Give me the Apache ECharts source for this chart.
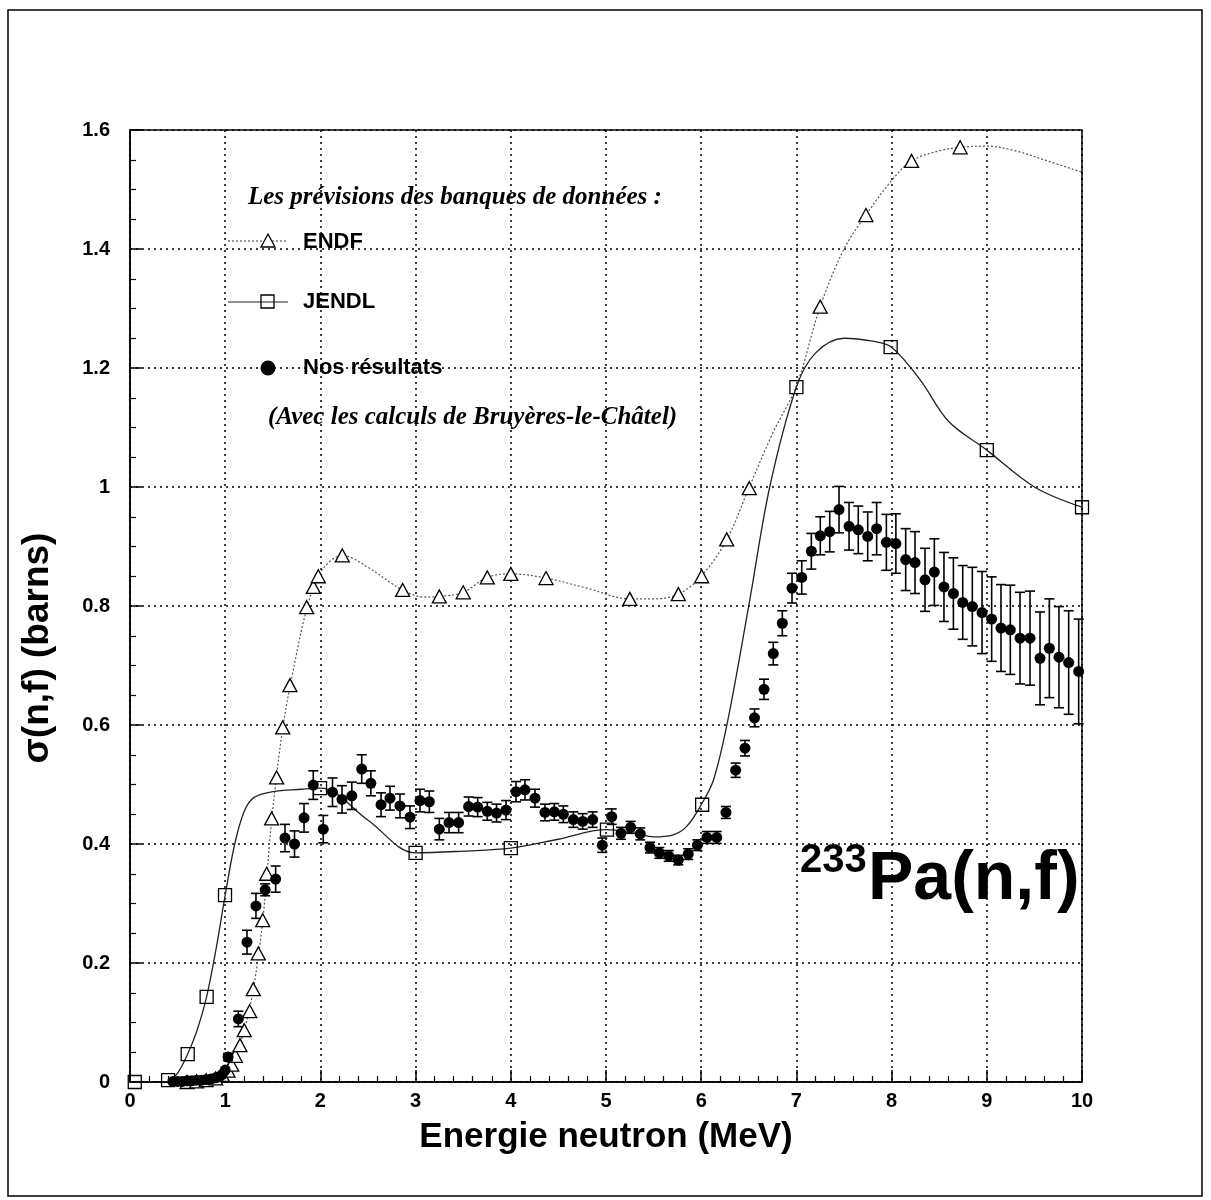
<!DOCTYPE html>
<html>
<head>
<meta charset="utf-8">
<script src="https://cdn.jsdelivr.net/npm/echarts@6/dist/echarts.min.js"></script>
<style>
html,body{margin:0;padding:0;background:#fff;}
#chart{width:1211px;height:1200px;}
</style>
</head>
<body>
<div id="chart"></div>
<script>
// ---- Data ----
const xTicks = [0,1,2,3,4,5,6,7,8,9,10];
const yTicks = [0,0.2,0.4,0.6,0.8,1,1.2,1.4,1.6];

// ENDF markers (triangles)
const endfX = [0.6,0.7,0.8,0.9,0.97,1.03,1.068,1.106,1.155,1.2,1.257,1.295,1.348,1.394,1.436,1.488,1.54,1.604,1.68,1.856,1.926,1.978,2.23,2.864,3.249,3.5,3.753,4.0,4.37,5.25,5.76,6.005,6.268,6.505,7.25,7.73,8.21,8.72];
const endfY = [0.0,0.001,0.003,0.006,0.012,0.019,0.029,0.044,0.062,0.087,0.119,0.156,0.216,0.272,0.35,0.443,0.512,0.596,0.667,0.798,0.832,0.85,0.885,0.827,0.816,0.823,0.848,0.854,0.847,0.812,0.82,0.85,0.912,0.998,1.303,1.457,1.548,1.571];
// ENDF evaluated curve
const endfCurveX = [0.45,0.6,0.8,0.97,1.1,1.2,1.3,1.4,1.49,1.6,1.7,1.86,1.98,2.1,2.23,2.5,2.86,3.1,3.25,3.5,3.75,4.0,4.37,4.8,5.25,5.5,5.76,6.0,6.27,6.5,6.75,7.0,7.25,7.5,7.73,8.0,8.21,8.5,8.72,9.0,9.3,9.6,10.0];
const endfCurveY = [0,0,0.003,0.012,0.044,0.087,0.16,0.28,0.443,0.59,0.68,0.798,0.85,0.875,0.885,0.865,0.827,0.815,0.816,0.823,0.848,0.854,0.847,0.83,0.812,0.812,0.82,0.85,0.912,0.998,1.09,1.17,1.303,1.4,1.457,1.515,1.548,1.565,1.571,1.573,1.565,1.55,1.529];

// JENDL markers (squares)
const jendlX = [0.05,0.4,0.606,0.805,0.998,1.996,3.0,4.0,5.01,6.01,7.0,7.99,9.0,10.0];
const jendlY = [0.0,0.003,0.047,0.143,0.314,0.494,0.385,0.393,0.424,0.466,1.168,1.235,1.062,0.966];
// JENDL evaluated curve
const jendlCurveX = [0.4,0.5,0.6,0.7,0.8,0.9,1.0,1.1,1.2,1.3,1.5,1.8,2.0,2.5,3.0,3.5,4.0,4.5,5.0,5.3,5.5,5.7,5.85,6.0,6.13,6.28,6.51,6.72,7.0,7.2,7.5,7.8,8.0,8.3,8.6,9.0,9.5,10.0];
const jendlCurveY = [0.0,0.015,0.045,0.085,0.14,0.22,0.314,0.4,0.455,0.478,0.488,0.492,0.494,0.44,0.385,0.388,0.393,0.408,0.424,0.418,0.412,0.415,0.43,0.466,0.508,0.608,0.81,1.0,1.168,1.225,1.25,1.245,1.235,1.18,1.11,1.062,1.0,0.966];

// Our results (filled circles) with errors
const measX = [0.45,0.5,0.55,0.6,0.65,0.7,0.75,0.8,0.85,0.9,0.94,0.97,1.0,1.03,1.138,1.229,1.323,1.42,1.53,1.628,1.728,1.828,1.925,2.03,2.127,2.227,2.33,2.434,2.53,2.637,2.731,2.836,2.941,3.046,3.144,3.249,3.351,3.452,3.557,3.652,3.753,3.85,3.95,4.055,4.149,4.254,4.359,4.457,4.552,4.657,4.755,4.86,4.961,5.06,5.158,5.259,5.36,5.462,5.56,5.659,5.759,5.864,5.96,6.06,6.163,6.26,6.362,6.46,6.56,6.66,6.757,6.852,6.954,7.056,7.157,7.251,7.35,7.448,7.553,7.65,7.749,7.843,7.945,8.045,8.148,8.246,8.351,8.449,8.55,8.649,8.747,8.848,8.95,9.051,9.149,9.247,9.349,9.454,9.559,9.657,9.758,9.86,9.965];
const measY = [0.001,0.001,0.001,0.002,0.002,0.003,0.003,0.004,0.005,0.007,0.009,0.013,0.02,0.042,0.106,0.235,0.296,0.323,0.341,0.41,0.40,0.444,0.499,0.425,0.487,0.475,0.481,0.526,0.502,0.466,0.477,0.464,0.445,0.473,0.471,0.425,0.436,0.436,0.463,0.462,0.455,0.452,0.457,0.488,0.491,0.477,0.453,0.454,0.45,0.441,0.438,0.441,0.398,0.446,0.418,0.428,0.417,0.394,0.385,0.38,0.373,0.383,0.398,0.411,0.411,0.453,0.524,0.561,0.612,0.66,0.72,0.771,0.83,0.848,0.892,0.918,0.925,0.962,0.934,0.928,0.917,0.93,0.907,0.905,0.878,0.873,0.844,0.857,0.832,0.821,0.806,0.799,0.789,0.778,0.763,0.76,0.746,0.746,0.712,0.729,0.714,0.705,0.69];
const measErr = [0,0,0,0,0,0,0,0,0,0,0,0,0,0.006,0.013,0.02,0.021,0.01,0.022,0.023,0.022,0.024,0.024,0.023,0.024,0.023,0.023,0.024,0.021,0.02,0.02,0.02,0.019,0.019,0.018,0.018,0.017,0.017,0.016,0.016,0.015,0.015,0.016,0.017,0.017,0.015,0.014,0.014,0.014,0.013,0.013,0.013,0.012,0.013,0.01,0.01,0.01,0.009,0.009,0.009,0.008,0.009,0.009,0.01,0.01,0.01,0.012,0.013,0.015,0.017,0.019,0.021,0.025,0.028,0.03,0.032,0.034,0.039,0.04,0.04,0.041,0.044,0.047,0.05,0.052,0.052,0.053,0.056,0.058,0.06,0.062,0.066,0.069,0.071,0.073,0.075,0.077,0.079,0.078,0.083,0.085,0.087,0.088];

// ---- Build ----
const zip = (a, b) => a.map((v, i) => [v, b[i]]);
const errData = measX.map((x, i) => [x, measY[i] - measErr[i], measY[i] + measErr[i]]).filter((d, i) => measErr[i] > 0);

const chart = echarts.init(document.getElementById('chart'), null, {renderer: 'canvas'});
const SANS = 'Liberation Sans, Arial, Helvetica, sans-serif';
const SERIF = 'Liberation Serif, Times New Roman, serif';
const gridDots = {show: true, lineStyle: {color: '#000', width: 1.5, type: [2, 4]}};

function txt(text, x, y, font, extra) {
  const el = {type: 'text', x: x, y: y, silent: true,
    style: {text: text, font: font, fill: '#000', textVerticalAlign: 'middle', verticalAlign: 'middle', textAlign: 'left', align: 'left'}};
  return Object.assign(el, extra || {});
}

const option = {
  backgroundColor: '#fff',
  animation: false,
  grid: {left: 130, right: 129, top: 130, bottom: 118, show: true, borderColor: '#000', borderWidth: 1.5},
  xAxis: {
    type: 'value', min: 0, max: 10, interval: 1,
    name: 'Energie neutron (MeV)', nameLocation: 'middle', nameGap: 38,
    nameTextStyle: {fontFamily: SANS, fontWeight: 'bold', fontSize: 35, color: '#000'},
    axisLine: {show: true, onZero: false, lineStyle: {color: '#000', width: 1.5}},
    axisTick: {show: true, inside: true, length: 12, lineStyle: {color: '#000', width: 1.5}},
    minorTick: {show: true, splitNumber: 5, length: 6, lineStyle: {color: '#000', width: 1.2}},
    axisLabel: {fontFamily: SANS, fontWeight: 'bold', fontSize: 20, color: '#000', margin: 9,
      customValues: xTicks},
    splitLine: gridDots
  },
  yAxis: {
    type: 'value', min: 0, max: 1.6, interval: 0.2,
    axisLine: {show: true, onZero: false, lineStyle: {color: '#000', width: 1.5}},
    axisTick: {show: true, inside: true, length: 12, lineStyle: {color: '#000', width: 1.5}},
    minorTick: {show: true, splitNumber: 4, length: 6, lineStyle: {color: '#000', width: 1.2}},
    axisLabel: {fontFamily: SANS, fontWeight: 'bold', fontSize: 20, color: '#000', margin: 20,
      formatter: v => String(+v.toFixed(1))},
    splitLine: gridDots
  },
  series: [
    {
      name: 'ENDF curve', type: 'line', data: zip(endfCurveX, endfCurveY), smooth: 0.35,
      symbol: 'none', lineStyle: {color: '#555', width: 1.2, type: [2, 2]}, z: 3
    },
    {
      name: 'JENDL curve', type: 'line', data: zip(jendlCurveX, jendlCurveY), smooth: 0.35,
      symbol: 'none', lineStyle: {color: '#222', width: 1.3}, z: 3
    },
    {
      name: 'ENDF', type: 'scatter', data: zip(endfX, endfY), symbol: 'triangle', symbolSize: [14, 13],
      itemStyle: {color: '#fff', borderColor: '#000', borderWidth: 1.3, opacity: 1}, z: 5
    },
    {
      name: 'JENDL', type: 'scatter', data: zip(jendlX, jendlY), symbol: 'rect', symbolSize: 13,
      itemStyle: {color: 'rgba(255,255,255,0)', borderColor: '#000', borderWidth: 1.3, opacity: 1}, z: 5
    },
    {
      name: 'errors', type: 'custom', data: errData, z: 6,
      renderItem: function (params, api) {
        const x = api.value(0);
        const lo = api.coord([x, api.value(1)]);
        const hi = api.coord([x, api.value(2)]);
        const c = 5;
        const st = {stroke: '#000', lineWidth: 1.6};
        return {type: 'group', children: [
          {type: 'line', shape: {x1: lo[0], y1: lo[1], x2: hi[0], y2: hi[1]}, style: st},
          {type: 'line', shape: {x1: lo[0] - c, y1: lo[1], x2: lo[0] + c, y2: lo[1]}, style: st},
          {type: 'line', shape: {x1: hi[0] - c, y1: hi[1], x2: hi[0] + c, y2: hi[1]}, style: st}
        ]};
      }
    },
    {
      name: 'Nos résultats', type: 'scatter', data: zip(measX, measY), symbol: 'circle', symbolSize: 11,
      itemStyle: {color: '#000', opacity: 1}, z: 7
    }
  ],
  graphic: [
    {type: 'rect', shape: {x: 8, y: 10, width: 1194, height: 1186}, style: {fill: 'none', stroke: '#000', lineWidth: 1.5}, silent: true},
    {type: 'text', x: 38, y: 648, rotation: Math.PI / 2, silent: true,
      style: {text: 'σ(n,f) (barns)', font: 'bold 37px ' + SANS, fill: '#000', textAlign: 'center', align: 'center', textVerticalAlign: 'middle', verticalAlign: 'middle'}},
    txt('Les prévisions des banques de données :', 248, 198, 'italic bold 25px ' + SERIF),
    {type: 'line', shape: {x1: 228, y1: 241, x2: 288, y2: 241}, style: {stroke: '#555', lineWidth: 1.2, lineDash: [2, 2]}},
    {type: 'polygon', shape: {points: [[268, 234], [275, 247], [261, 247]]}, style: {fill: '#fff', stroke: '#000', lineWidth: 1.3}},
    txt('ENDF', 303, 242, 'bold 22px ' + SANS),
    {type: 'line', shape: {x1: 228, y1: 302, x2: 288, y2: 302}, style: {stroke: '#222', lineWidth: 1.2}},
    {type: 'rect', shape: {x: 261, y: 295, width: 13, height: 13}, style: {fill: 'none', stroke: '#000', lineWidth: 1.3}},
    txt('JENDL', 303, 302, 'bold 22px ' + SANS),
    {type: 'circle', shape: {cx: 268, cy: 368, r: 7.5}, style: {fill: '#000'}},
    txt('Nos résultats', 303, 368, 'bold 22px ' + SANS),
    txt('(Avec les calculs de Bruyères-le-Châtel)', 268, 418, 'italic bold 25px ' + SERIF),
    txt('233', 800, 861, 'bold 40px ' + SANS),
    txt('Pa(n,f)', 868, 880, 'bold 68px ' + SANS)
  ]
};
chart.setOption(option);
</script>
</body>
</html>
